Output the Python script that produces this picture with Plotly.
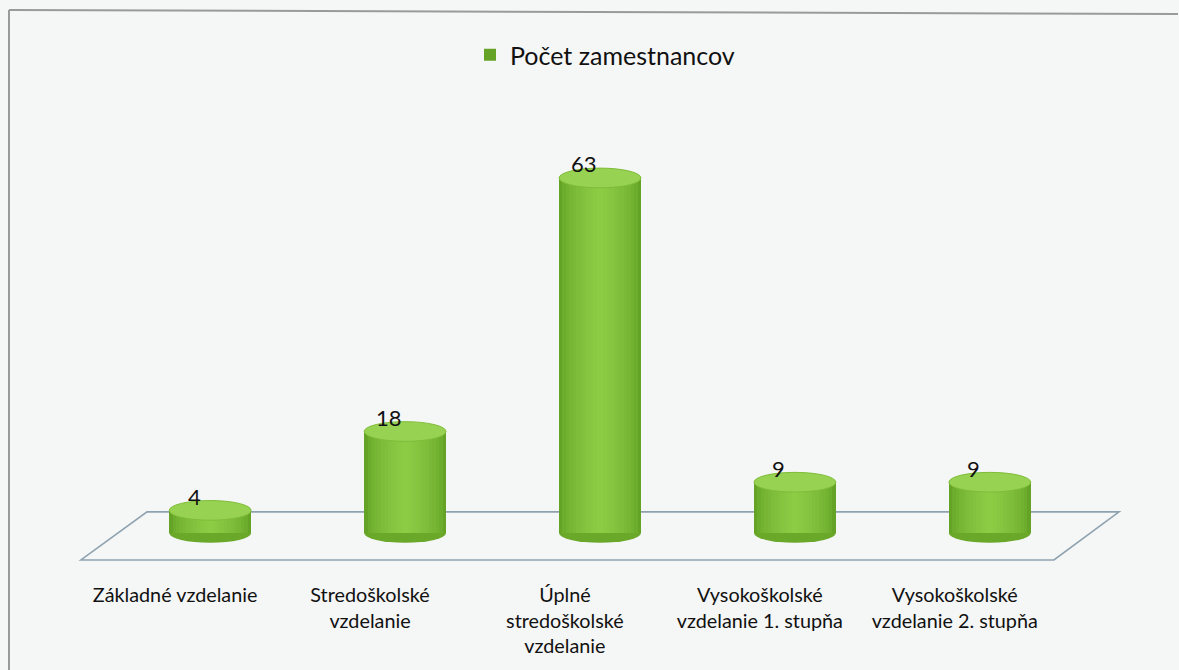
import plotly.graph_objects as go

categories = ["Základné vzdelanie", "Stredoškolské<br>vzdelanie", "Úplné<br>stredoškolské<br>vzdelanie",
              "Vysokoškolské<br>vzdelanie 1. stupňa", "Vysokoškolské<br>vzdelanie 2. stupňa"]
values = [4, 18, 63, 9, 9]
series_name = "Počet zamestnancov"

BG = "#f5f6f6"
FONT = "Lato, Open Sans, sans-serif"
xs = list(range(len(values)))
BAR_W = 0.42
RY = 1.75          # vertical half-axis of the cylinder ellipses (data units)
X_RANGE = [-0.75, 4.75]
LABEL_SHIFT = 0.18  # category labels sit on the front edge of the floor (perspective)
PLOT_W, PLOT_H = 1072, 478


def mix(c1, c2, t):
    a = [int(c1[i:i + 2], 16) for i in (1, 3, 5)]
    b = [int(c2[i:i + 2], 16) for i in (1, 3, 5)]
    return "#" + "".join(f"{round(a[i] + (b[i] - a[i]) * t):02x}" for i in range(3))


EDGE, MID = "#64a326", "#8ccc45"
N = 12
fig = go.Figure()
for k in range(N):
    frac = 1 - k / N
    t = (k / (N - 1)) ** 0.6
    fig.add_trace(go.Bar(
        x=xs, y=values, width=BAR_W * frac, marker=dict(color=mix(EDGE, MID, t), line=dict(width=0)),
        name=series_name, showlegend=(k == 0), legendgroup="g",
        hoverinfo="skip" if k else None,
    ))
# invisible trace carrying the category axis
fig.add_trace(go.Scatter(x=xs, y=[0] * len(xs), xaxis="x2", mode="markers",
                         marker=dict(opacity=0), showlegend=False, hoverinfo="skip"))

shapes = []
shapes.append(dict(type="path", xref="x", yref="y", layer="below",
                   path="M -0.663,-4.8 L 4.329,-4.8 L 4.663,3.73 L -0.324,3.73 Z",
                   line=dict(color="#8ea2b0", width=1.6), fillcolor="rgba(0,0,0,0)"))
for x, v in zip(xs, values):
    shapes.append(dict(type="circle", xref="x", yref="y", layer="below",
                       x0=x - BAR_W / 2, x1=x + BAR_W / 2, y0=-RY, y1=RY,
                       fillcolor="#6aa82a", line=dict(width=0)))
    shapes.append(dict(type="circle", xref="x", yref="y", layer="above",
                       x0=x - BAR_W / 2, x1=x + BAR_W / 2, y0=v - RY, y1=v + RY,
                       fillcolor="#97d252", line=dict(color="#7fbd38", width=1)))
# outer chart border (only top and left edges are visible in the scan)
shapes.append(dict(type="line", xref="paper", yref="paper",
                   x0=-55 / PLOT_W, x1=(1178 - 64) / PLOT_W, y0=1 + 90 / PLOT_H, y1=1 + 86 / PLOT_H,
                   line=dict(color="#9a9a9a", width=2)))
shapes.append(dict(type="line", xref="paper", yref="paper",
                   x0=-55 / PLOT_W, x1=-55 / PLOT_W, y0=1 + 90 / PLOT_H, y1=-92 / PLOT_H,
                   line=dict(color="#9a9a9a", width=2)))

annotations = []
for x, v in zip(xs, values):
    annotations.append(dict(x=x, y=v, xref="x", yref="y", text=str(v), showarrow=False,
                            xshift=-16, yshift=14, font=dict(size=22, color="#111111", family=FONT)))

fig.update_layout(
    width=1179, height=670,
    margin=dict(l=64, r=43, t=100, b=92),
    paper_bgcolor=BG, plot_bgcolor=BG,
    barmode="overlay", bargap=0,
    shapes=shapes, annotations=annotations,
    showlegend=True,
    legend=dict(orientation="h", x=470 / 1179, xanchor="left", xref="container",
                y=1 - 55 / 670, yanchor="middle", yref="container",
                font=dict(size=25, color="#111111", family=FONT),
                bgcolor="rgba(0,0,0,0)", itemwidth=30),
    xaxis=dict(range=X_RANGE, showticklabels=False, showgrid=False,
               zeroline=False, showline=False, ticks=""),
    xaxis2=dict(range=[X_RANGE[0] + LABEL_SHIFT, X_RANGE[1] + LABEL_SHIFT], overlaying="x", anchor="y",
                side="bottom", tickvals=xs, ticktext=categories, showgrid=False,
                zeroline=False, showline=False, ticks="", ticklabelstandoff=3,
                tickfont=dict(size=19.8, color="#111111", family=FONT)),
    yaxis=dict(range=[-8.0, 76.84], visible=False, showgrid=False, zeroline=False),
)

fig.write_html("out.html", config={"displayModeBar": False},
               post_script="document.body.style.margin='0';")
